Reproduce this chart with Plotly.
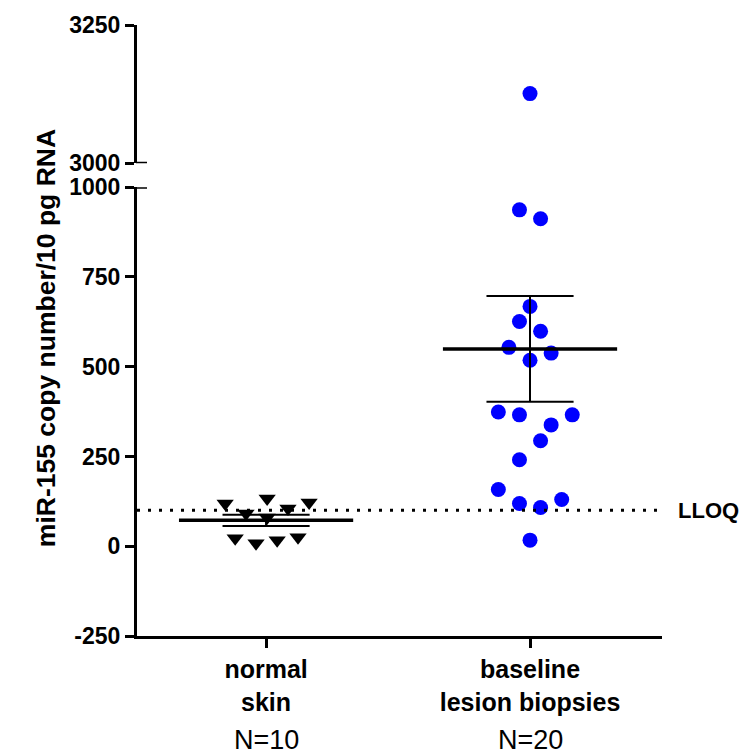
import numpy as np
import plotly.graph_objects as go

# ---- data ----
categories = ["normal<br>skin", "baseline<br>lesion biopsies"]
n_labels = ["N=10", "N=20"]
normal_skin = [119, 91, 133, 80, 105, 122, 22, 8, 17, 25]
lesion_biopsies = [3126, 937, 912, 668, 626, 599, 554, 538, 518, 374,
                   366, 366, 338, 294, 241, 158, 119, 130, 108, 17]
lloq = 100
lower_ticks = [-250, 0, 250, 500, 750, 1000]
upper_ticks = [3000, 3250]

# horizontal scatter (jitter) offsets, in category units
normal_jitter = [-0.155, -0.076, 0.004, 0.004, 0.083, 0.163, -0.117, -0.038, 0.042, 0.121]
lesion_jitter = [0, -0.04, 0.04, 0, -0.04, 0.04, -0.08, 0.08, 0, -0.12,
                 -0.04, 0.16, 0.08, 0.04, -0.04, -0.12, -0.04, 0.12, 0.04, 0]

BREAK = 1000
FONT = "Liberation Sans, Arial, sans-serif"

fig = go.Figure()

# normal skin points
fig.add_trace(go.Scatter(
    x=[1 + j for j in normal_jitter], y=normal_skin, mode="markers",
    marker=dict(symbol="triangle-down", size=15, color="black"),
    yaxis="y", showlegend=False))

# lesion points split over the broken axis
low_x = [2 + j for j, v in zip(lesion_jitter, lesion_biopsies) if v <= BREAK]
low_y = [v for v in lesion_biopsies if v <= BREAK]
hi_x = [2 + j for j, v in zip(lesion_jitter, lesion_biopsies) if v > BREAK]
hi_y = [v for v in lesion_biopsies if v > BREAK]
fig.add_trace(go.Scatter(x=low_x, y=low_y, mode="markers",
                         marker=dict(symbol="circle", size=15, color="#0000FF"),
                         yaxis="y", showlegend=False))
fig.add_trace(go.Scatter(x=hi_x, y=hi_y, mode="markers",
                         marker=dict(symbol="circle", size=15, color="#0000FF"),
                         yaxis="y2", showlegend=False))

# mean +/- SEM
for i, vals in enumerate([normal_skin, lesion_biopsies]):
    xc = i + 1
    arr = np.array(vals, dtype=float)
    m = arr.mean()
    sem = arr.std(ddof=1) / np.sqrt(len(arr))
    fig.add_trace(go.Scatter(x=[xc, xc], y=[m - sem, m + sem], mode="lines",
                             line=dict(color="black", width=2), showlegend=False))
    for yv in (m - sem, m + sem):
        fig.add_trace(go.Scatter(x=[xc - 0.165, xc + 0.165], y=[yv, yv], mode="lines",
                                 line=dict(color="black", width=2), showlegend=False))
    fig.add_trace(go.Scatter(x=[xc - 0.33, xc + 0.33], y=[m, m], mode="lines",
                             line=dict(color="black", width=3.5), showlegend=False))

# LLOQ dotted line
fig.add_shape(type="line", xref="paper", x0=0, x1=1, yref="y", y0=lloq, y1=lloq,
              line=dict(color="black", width=3, dash="3px,8px"))
fig.add_annotation(text="<b>LLOQ</b>", xref="paper", x=1.027, xanchor="left",
                   yref="y", y=lloq, yanchor="middle", showarrow=False,
                   font=dict(family=FONT, size=22, color="black"))

# break caps (ticks extending inside at the break)
for yref, yv in (("y", lower_ticks[-1]), ("y2", upper_ticks[0])):
    fig.add_shape(type="line", xref="paper", xsizemode="pixel", xanchor=0,
                  x0=-1, x1=10, yref=yref, y0=yv, y1=yv,
                  line=dict(color="black", width=3))

# N labels
for i, lab in enumerate(n_labels):
    fig.add_annotation(text=lab, xref="x", x=i + 1, yref="paper", y=-0.171,
                       yanchor="middle", showarrow=False,
                       font=dict(family=FONT, size=27, color="black"))

# y-axis title
fig.add_annotation(text="<b>miR-155 copy number/10 pg RNA</b>", xref="paper", x=-0.172,
                   xanchor="center", yref="paper", y=0.487, yanchor="middle",
                   textangle=-90, showarrow=False,
                   font=dict(family=FONT, size=26.5, color="black"))

axis_common = dict(showline=True, linecolor="black", linewidth=3, ticks="outside",
                   ticklen=9, tickwidth=3, tickcolor="black", showgrid=False,
                   zeroline=False,
                   tickfont=dict(family=FONT, size=23, color="black", weight="bold"))

fig.update_layout(
    width=747, height=754,
    margin=dict(l=137, r=85, t=22, b=118),
    paper_bgcolor="white", plot_bgcolor="white",
    xaxis=dict(range=[0.511, 2.5], tickvals=[1, 2], ticktext=categories,
               anchor="y", **{k: v for k, v in axis_common.items() if k != "tickfont"},
               tickfont=dict(family=FONT, size=25, color="black", weight="bold")),
    yaxis=dict(domain=[0, 0.7345], range=[-250, 1000], tickvals=lower_ticks,
               ticktext=[str(v) for v in lower_ticks], anchor="x", **axis_common),
    yaxis2=dict(domain=[0.7736, 1], range=[3000, 3250], tickvals=upper_ticks,
                ticktext=[str(v) for v in upper_ticks], anchor="x", **axis_common),
    showlegend=False,
)

fig.write_html("out.html", config={"displayModeBar": False},
               post_script="document.body.style.margin='0';document.body.style.overflow='hidden';")
